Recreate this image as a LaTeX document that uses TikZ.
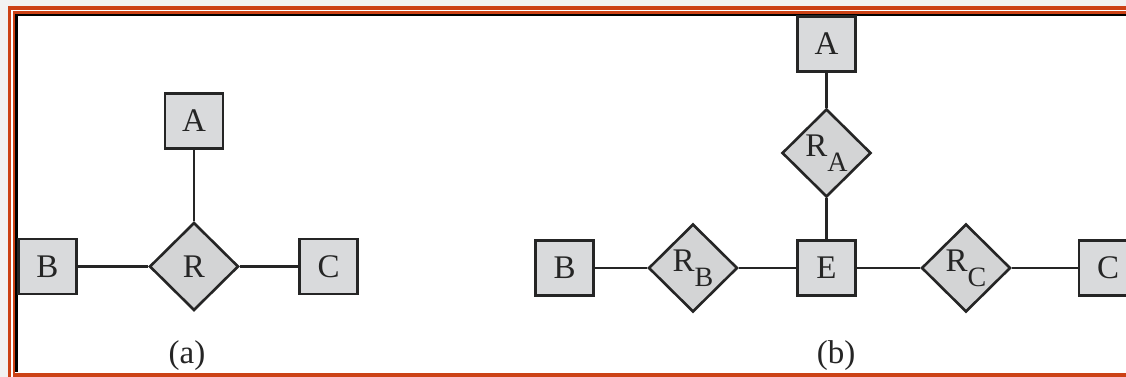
\documentclass[tikz,border=0pt]{standalone}
\usepackage{fontspec}
\setmainfont{Liberation Serif}
\usetikzlibrary{shapes.geometric}
\definecolor{bgc}{HTML}{F2F2F2}
\definecolor{frameorange}{HTML}{CC4216}
\definecolor{boxfill}{HTML}{D9DADC}
\definecolor{diafill}{HTML}{D3D4D5}
\definecolor{ink}{HTML}{252525}
\tikzset{
  entity/.style={draw=ink, fill=boxfill, line width=2.6pt, minimum width=58pt, minimum height=55pt, inner sep=0pt, text=ink, font=\fontsize{33}{35}\selectfont},
  relation/.style={draw=ink, fill=diafill, line width=2.6pt, shape=diamond, minimum width=89pt, minimum height=88pt, inner sep=0pt, text=ink, font=\fontsize{33}{35}\selectfont},
  link/.style={draw=ink, line width=2.1pt},
  caption/.style={text=ink, font=\fontsize{33}{35}\selectfont, inner sep=0pt}
}
\newcommand{\subR}[1]{R\raisebox{-15pt}{\fontsize{28}{28}\selectfont #1}}
\begin{document}
\begin{tikzpicture}[x=1pt, y=-1pt]
\useasboundingbox (0,0) rectangle (1126,377);
% frame
\fill[bgc] (0,0) rectangle (1126,377);
\fill[white] (11,9) rectangle (1126,377);
\draw[frameorange, line width=3.2pt] (9.8,380) -- (9.8,8) -- (1130,8);
\draw[frameorange, line width=2.6pt] (14,374) -- (14,12.4) -- (1130,12.4);
\draw[black, line width=2.2pt] (16.5,372) -- (16.5,15) -- (1130,15);
\draw[frameorange, line width=3.6pt] (12.9,374.8) -- (1130,374.8);
% (a)
\node[relation] (R) at (194,266.5) {R};
\node[entity] (A1) at (194,121) {A};
\node[entity] (B1) at (47.5,266.5) {B};
\node[entity] (C1) at (328.5,266.5) {C};
\draw[link] (A1) -- (R);
\draw[link] (B1) -- (R);
\draw[link] (R) -- (C1);
\node[caption] (capa) at (187,356) {(a)};
% (b)
\node[entity] (E) at (826.5,268) {E};
\node[entity] (A2) at (826.5,44) {A};
\node[relation] (RA) at (826.5,153) {\subR{A}};
\node[relation] (RB) at (693,268) {\subR{B}};
\node[relation] (RC) at (966,268) {\subR{C}};
\node[entity] (B2) at (564.5,268) {B};
\node[entity] (C2) at (1108,268) {C};
\draw[link] (A2) -- (RA);
\draw[link] (RA) -- (E);
\draw[link] (B2) -- (RB);
\draw[link] (RB) -- (E);
\draw[link] (E) -- (RC);
\draw[link] (RC) -- (C2);
\node[caption] (capb) at (836,356) {(b)};
\end{tikzpicture}
\end{document}
